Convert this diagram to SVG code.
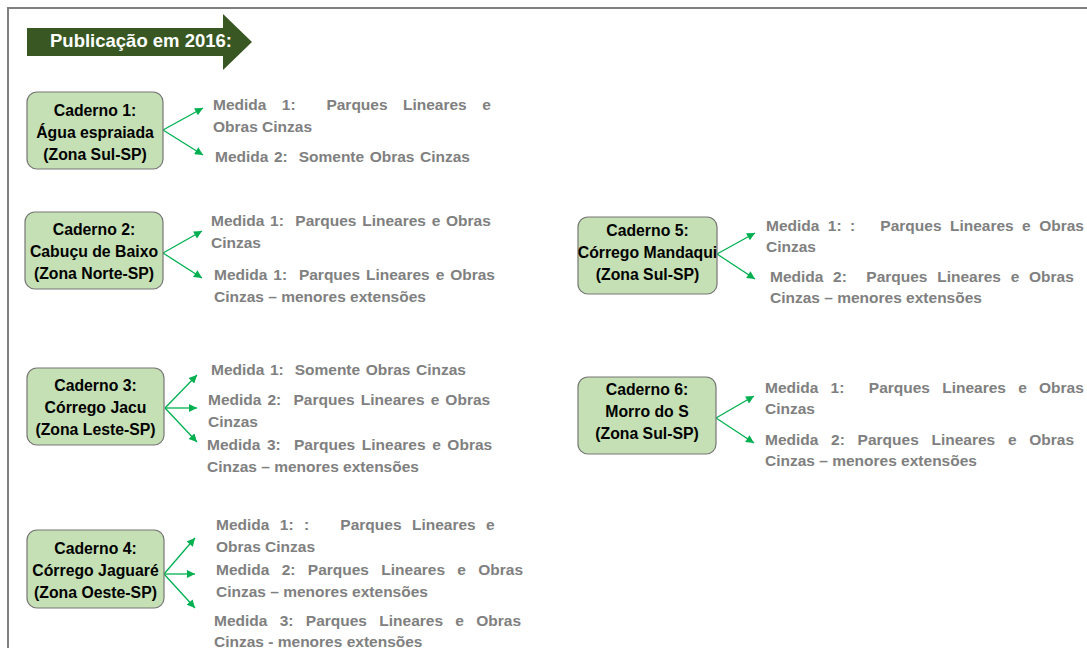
<svg xmlns="http://www.w3.org/2000/svg" width="1087" height="648" viewBox="0 0 1087 648">
<defs>
<style>
.frame{fill:none;stroke:#7f7f7f;stroke-width:2}
.box{fill:#c5e0b4;stroke:#767676;stroke-width:1.2}
.nt{font-family:"Liberation Sans",Arial,sans-serif;font-weight:bold;font-size:15.8px;fill:#000;text-anchor:middle}
.md{font-family:"Liberation Sans",Arial,sans-serif;font-weight:bold;font-size:15.5px;fill:#808080}
.title{font-family:"Liberation Sans",Arial,sans-serif;font-weight:bold;font-size:18.5px;fill:#fff}
.con{fill:none;stroke:#00b050;stroke-width:1.3}
</style>
<marker id="ah" viewBox="0 0 10 10" refX="10" refY="5" markerWidth="9" markerHeight="8" markerUnits="userSpaceOnUse" orient="auto">
<path d="M0,0 L10,5 L0,10 z" fill="#00b050"/>
</marker>
</defs>
<rect width="1087" height="648" fill="#fff"/>
<path class="frame" d="M8,660 V8 H1100"/>
<g id="title">
<polygon points="27,28 223,28 223,14 252,42 223,70 223,56 27,56" fill="#385723"/>
<text class="title" x="50" y="47">Publicação em 2016:</text>
</g>
<g id="connectors">
<line class="con" x1="163" y1="130" x2="203" y2="108" marker-end="url(#ah)"/>
<line class="con" x1="163" y1="130" x2="203" y2="155" marker-end="url(#ah)"/>
<line class="con" x1="163" y1="253" x2="202" y2="231" marker-end="url(#ah)"/>
<line class="con" x1="163" y1="253" x2="202" y2="278" marker-end="url(#ah)"/>
<line class="con" x1="165" y1="408" x2="197" y2="375" marker-end="url(#ah)"/>
<line class="con" x1="165" y1="408" x2="197" y2="408" marker-end="url(#ah)"/>
<line class="con" x1="165" y1="408" x2="197" y2="442" marker-end="url(#ah)"/>
<line class="con" x1="164" y1="574" x2="195" y2="538" marker-end="url(#ah)"/>
<line class="con" x1="164" y1="574" x2="195" y2="574" marker-end="url(#ah)"/>
<line class="con" x1="164" y1="574" x2="195" y2="608" marker-end="url(#ah)"/>
<line class="con" x1="717" y1="254" x2="755" y2="233" marker-end="url(#ah)"/>
<line class="con" x1="717" y1="254" x2="755" y2="279" marker-end="url(#ah)"/>
<line class="con" x1="716" y1="418" x2="754" y2="396" marker-end="url(#ah)"/>
<line class="con" x1="716" y1="418" x2="754" y2="443" marker-end="url(#ah)"/>
</g>
<g id="caderno1">
<rect class="box" x="27" y="92" width="136" height="77" rx="10"/>
<text class="nt" x="95" y="116">Caderno 1:</text>
<text class="nt" x="95" y="138">Água espraiada</text>
<text class="nt" x="95" y="160">(Zona Sul-SP)</text>
</g>
<g id="caderno1-medidas">
<text class="md" xml:space="preserve" x="213" y="110" style="word-spacing:11.1px">Medida 1:  Parques Lineares e</text>
<text class="md" x="213" y="132">Obras Cinzas</text>
<text class="md" xml:space="preserve" x="215" y="162" style="word-spacing:1.2px">Medida 2:  Somente Obras Cinzas</text>
</g>
<g id="caderno2">
<rect class="box" x="25" y="212" width="138" height="77" rx="10"/>
<text class="nt" x="94" y="235">Caderno 2:</text>
<text class="nt" x="94" y="257">Cabuçu de Baixo</text>
<text class="nt" x="94" y="279">(Zona Norte-SP)</text>
</g>
<g id="caderno2-medidas">
<text class="md" xml:space="preserve" x="211" y="226" style="word-spacing:1.4px">Medida 1:  Parques Lineares e Obras</text>
<text class="md" x="211" y="248">Cinzas</text>
<text class="md" xml:space="preserve" x="214" y="280" style="word-spacing:1.6px">Medida 1:  Parques Lineares e Obras</text>
<text class="md" x="214" y="302">Cinzas – menores extensões</text>
</g>
<g id="caderno3">
<rect class="box" x="27" y="368" width="137" height="77" rx="10"/>
<text class="nt" x="95.5" y="391">Caderno 3:</text>
<text class="nt" x="95.5" y="413">Córrego Jacu</text>
<text class="nt" x="95.5" y="435">(Zona Leste-SP)</text>
</g>
<g id="caderno3-medidas">
<text class="md" xml:space="preserve" x="211" y="375" style="word-spacing:1.2px">Medida 1:  Somente Obras Cinzas</text>
<text class="md" xml:space="preserve" x="208" y="405" style="word-spacing:1.8px">Medida 2:  Parques Lineares e Obras</text>
<text class="md" x="208" y="427">Cinzas</text>
<text class="md" xml:space="preserve" x="207" y="450" style="word-spacing:2.3px">Medida 3:  Parques Lineares e Obras</text>
<text class="md" x="207" y="472">Cinzas – menores extensões</text>
</g>
<g id="caderno4">
<rect class="box" x="27" y="530" width="137" height="78" rx="10"/>
<text class="nt" x="95.5" y="554">Caderno 4:</text>
<text class="nt" x="95.5" y="576">Córrego Jaguaré</text>
<text class="nt" x="95.5" y="598">(Zona Oeste-SP)</text>
</g>
<g id="caderno4-medidas">
<text class="md" xml:space="preserve" x="216" y="530" style="word-spacing:6.1px">Medida 1: :   Parques Lineares e</text>
<text class="md" x="216" y="552">Obras Cinzas</text>
<text class="md" xml:space="preserve" x="216" y="575" style="word-spacing:8px">Medida 2: Parques Lineares e Obras</text>
<text class="md" x="216" y="597">Cinzas – menores extensões</text>
<text class="md" xml:space="preserve" x="214" y="626" style="word-spacing:8px">Medida 3: Parques Lineares e Obras</text>
<text class="md" x="214" y="647">Cinzas - menores extensões</text>
</g>
<g id="caderno5">
<rect class="box" x="578" y="217" width="139" height="77" rx="10"/>
<text class="nt" x="647.5" y="236">Caderno 5:</text>
<text class="nt" x="647.5" y="258">Córrego Mandaqui</text>
<text class="nt" x="647.5" y="280">(Zona Sul-SP)</text>
</g>
<g id="caderno5-medidas">
<text class="md" xml:space="preserve" x="766" y="231" style="word-spacing:4.1px">Medida 1: :   Parques Lineares e Obras</text>
<text class="md" x="766" y="252">Cinzas</text>
<text class="md" xml:space="preserve" x="770" y="282" style="word-spacing:5.4px">Medida 2:  Parques Lineares e Obras</text>
<text class="md" x="770" y="303">Cinzas – menores extensões</text>
</g>
<g id="caderno6">
<rect class="box" x="578" y="377" width="138" height="77" rx="10"/>
<text class="nt" x="647" y="395">Caderno 6:</text>
<text class="nt" x="647" y="417">Morro do S</text>
<text class="nt" x="647" y="439">(Zona Sul-SP)</text>
</g>
<g id="caderno6-medidas">
<text class="md" xml:space="preserve" x="765" y="393" style="word-spacing:7.9px">Medida 1:  Parques Lineares e Obras</text>
<text class="md" x="765" y="414">Cinzas</text>
<text class="md" xml:space="preserve" x="765" y="445" style="word-spacing:8.4px">Medida 2: Parques Lineares e Obras</text>
<text class="md" x="765" y="466">Cinzas – menores extensões</text>
</g>
</svg>
